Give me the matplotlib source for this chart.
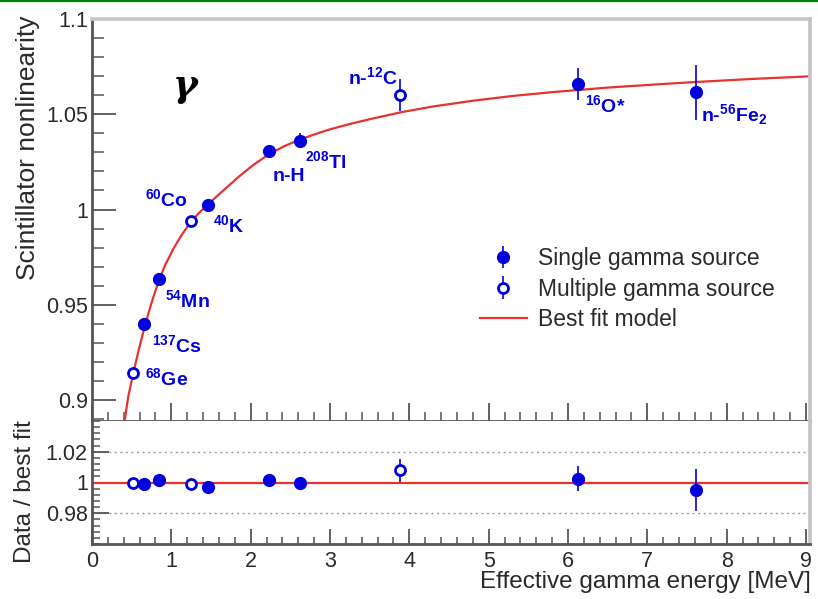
import matplotlib
matplotlib.use("Agg")
import matplotlib.pyplot as plt
from matplotlib.lines import Line2D
from matplotlib.ticker import MultipleLocator

plt.rcParams['font.family'] = ['Liberation Sans', 'DejaVu Sans']
plt.rcParams['mathtext.default'] = 'regular'

# ---------------- data ----------------
single_E = [0.659, 0.844, 1.461, 2.225, 2.62, 6.125, 7.616]
single_y = [0.940, 0.9636, 1.0023, 1.0306, 1.0362, 1.066, 1.0616]
single_err = [0.003, 0.003, 0.003, 0.003, 0.004, 0.0083, 0.0145]
single_ratio = [0.9993, 1.0017, 0.9972, 1.0015, 0.9997, 1.0025, 0.9951]
single_ratio_err = [0.002, 0.002, 0.002, 0.002, 0.002, 0.008, 0.0139]
single_labels = [r'$^{137}$Cs', r'$^{54}$Mn', r'$^{40}$K', 'n-H', r'$^{208}$Tl',
                 r'$^{16}$O*', r'n-$^{56}$Fe$_{2}$']

multi_E = [0.513, 1.247, 3.879]
multi_y = [0.914, 0.9939, 1.0603]
multi_err = [0.002, 0.002, 0.0084]
multi_ratio = [1.0000, 0.9993, 1.0079]
multi_ratio_err = [0.002, 0.002, 0.0075]
multi_labels = [r'$^{68}$Ge', r'$^{60}$Co', r'n-$^{12}$C']

fit_E = [0.41, 0.46, 0.52, 0.59, 0.67, 0.75, 0.83, 0.92, 1.03, 1.13, 1.24, 1.35,
         1.47, 1.65, 1.85, 2.03, 2.22, 2.42, 2.62, 2.8, 3.0, 3.25, 3.5, 3.9, 4.3,
         4.8, 5.3, 5.8, 6.5, 7.2, 7.6, 8.3, 9.1]
fit_y = [0.889, 0.9025, 0.914, 0.9265, 0.9395, 0.951, 0.9612, 0.9707, 0.9797,
         0.9866, 0.9932, 0.9983, 1.0030, 1.0098, 1.0172, 1.0233, 1.0287, 1.0332,
         1.0367, 1.0394, 1.0421, 1.0449, 1.0474, 1.0511, 1.0541, 1.0571, 1.0596,
         1.0616, 1.0640, 1.0659, 1.0669, 1.0685, 1.0700]

xticks = [0, 1, 2, 3, 4, 5, 6, 7, 8, 9]
yticks_top = [0.9, 0.95, 1.0, 1.05, 1.1]
yticklabels_top = ['0.9', '0.95', '1', '1.05', '1.1']
yticks_ratio = [0.98, 1.0, 1.02]
yticklabels_ratio = ['0.98', '1', '1.02']

# ---------------- styling ----------------
BLUE = '#0000dd'
RED = '#e8322e'
DARK = '#555555'
LIGHT = '#c4c4c4'
TXT = '#2a2a2a'

W_PX, H_PX = 818, 599
fig = plt.figure(figsize=(W_PX / 100, H_PX / 100), dpi=100)
L = 92 / W_PX
R = 810 / W_PX
ax = fig.add_axes([L, 1 - 421 / H_PX, R - L, (421 - 19) / H_PX])
axr = fig.add_axes([L, 1 - 544 / H_PX, R - L, (544 - 421) / H_PX])

# top green rule
fig.add_artist(Line2D([0, 1], [1 - 0.8 / H_PX, 1 - 0.8 / H_PX], transform=fig.transFigure,
                      color='#008000', lw=1.6))

# ---- top panel
fit_line, = ax.plot(fit_E, fit_y, color=RED, lw=1.6, zorder=2)
eb_single = ax.errorbar(single_E, single_y, yerr=single_err, fmt='o', color=BLUE,
                        ms=8.5, elinewidth=1.2, capsize=0, zorder=3)
eb_multi = ax.errorbar(multi_E, multi_y, yerr=multi_err, fmt='o', color=BLUE,
                       mfc='white', mec=BLUE, mew=2.0, ms=7.2, elinewidth=1.2,
                       capsize=0, zorder=3)

single_off = [(8, -21), (6, -21), (5, -20), (4, -25), (5, -21), (7, -21), (5, -22)]
multi_off = [(12, -5), (-46, 22), (-52, 17)]
for E, y, lab, off in zip(single_E, single_y, single_labels, single_off):
    ax.annotate(lab, xy=(E, y), xytext=off, textcoords='offset pixels',
                ha='left', va='center', color=BLUE, fontsize=14, fontweight='bold')
for E, y, lab, off in zip(multi_E, multi_y, multi_labels, multi_off):
    ax.annotate(lab, xy=(E, y), xytext=off, textcoords='offset pixels',
                ha='left', va='center', color=BLUE, fontsize=14, fontweight='bold')

ax.set_xlim(0, 9.05)
ax.set_ylim(0.889, 1.1)
ax.set_xticks(xticks)
ax.set_xticklabels([])
ax.xaxis.set_minor_locator(MultipleLocator(0.2))
ax.set_yticks(yticks_top)
ax.set_yticklabels(yticklabels_top)
ax.yaxis.set_minor_locator(MultipleLocator(0.01))
ax.tick_params(axis='y', which='major', direction='in', length=17, width=1.3,
               color=DARK, labelsize=15.5, labelcolor=TXT, pad=3)
ax.tick_params(axis='y', which='minor', direction='in', length=8.5, width=1.1, color=DARK)
ax.tick_params(axis='x', which='major', direction='in', length=13, width=1.3, color=DARK)
ax.tick_params(axis='x', which='minor', direction='in', length=6.5, width=1.1, color=DARK)

for s in ('left', 'bottom'):
    ax.spines[s].set_color(DARK)
    ax.spines[s].set_linewidth(2)
for s in ('top', 'right'):
    ax.spines[s].set_color(LIGHT)
    ax.spines[s].set_linewidth(2.6)

leg = ax.legend([eb_single, eb_multi, fit_line],
                ['Single gamma source', 'Multiple gamma source', 'Best fit model'],
                loc='upper left', bbox_to_anchor=(480 / W_PX, 1 - 247 / H_PX),
                bbox_transform=fig.transFigure, frameon=False, fontsize=16.5,
                borderpad=0, borderaxespad=0, handlelength=2.05, handletextpad=0.5,
                labelspacing=0.33)
for t in leg.get_texts():
    t.set_color(TXT)

# ---- ratio panel
axr.axhline(1.0, color=RED, lw=1.6, zorder=2)
for g in (0.98, 1.02):
    axr.axhline(g, color='#9a9a9a', lw=1.0, ls=(0, (1.5, 2.5)), zorder=1)
axr.errorbar(single_E, single_ratio, yerr=single_ratio_err, fmt='o', color=BLUE,
             ms=8.5, elinewidth=1.2, capsize=0, zorder=3)
axr.errorbar(multi_E, multi_ratio, yerr=multi_ratio_err, fmt='o', color=BLUE,
             mfc='white', mec=BLUE, mew=2.0, ms=7.2, elinewidth=1.2, capsize=0, zorder=3)

axr.set_xlim(0, 9.05)
axr.set_ylim(0.96, 1.04)
axr.set_xticks(xticks)
axr.set_xticklabels([str(v) for v in xticks])
axr.xaxis.set_minor_locator(MultipleLocator(0.2))
axr.set_yticks(yticks_ratio)
axr.set_yticklabels(yticklabels_ratio)
axr.yaxis.set_minor_locator(MultipleLocator(0.004))
axr.tick_params(axis='y', which='major', direction='in', length=12, width=1.3,
                color=DARK, labelsize=15.5, labelcolor=TXT, pad=3)
axr.tick_params(axis='y', which='minor', direction='in', length=6, width=1.1, color=DARK)
axr.tick_params(axis='x', which='major', direction='in', length=11, width=1.3,
                color=DARK, labelsize=15.5, labelcolor=TXT, pad=5)
axr.tick_params(axis='x', which='minor', direction='in', length=5, width=1.1, color=DARK)
for s in ('left', 'bottom'):
    axr.spines[s].set_color(DARK)
    axr.spines[s].set_linewidth(2)
axr.spines['top'].set_visible(False)
axr.spines['right'].set_color(LIGHT)
axr.spines['right'].set_linewidth(2.6)

# ---- axis titles (ROOT style alignment)
fig.text(28 / W_PX, 1 - 16 / H_PX, 'Scintillator nonlinearity', rotation=90,
         ha='center', va='top', fontsize=19, color=TXT)
fig.text(25 / W_PX, 1 - 420 / H_PX, 'Data / best fit', rotation=90,
         ha='center', va='top', fontsize=17.5, color=TXT)
fig.text(811 / W_PX, 1 - 582 / H_PX, 'Effective gamma energy [MeV]',
         ha='right', va='center', fontsize=17.5, color=TXT)

# gamma symbol
fig.text(185 / W_PX, 1 - 86 / H_PX, 'γ', family='DejaVu Serif', style='italic',
         fontweight='bold', fontsize=27, ha='center', va='center', color='black')

fig.savefig('out.png', dpi=100)
